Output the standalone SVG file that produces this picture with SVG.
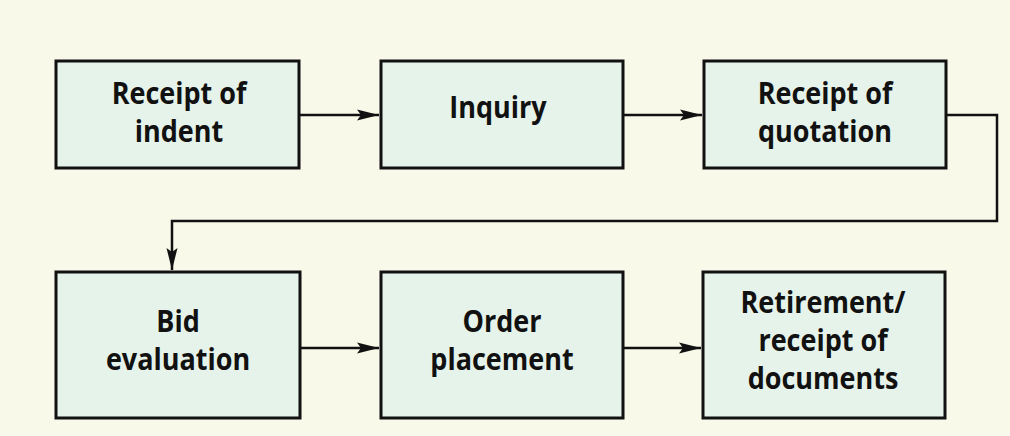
<svg xmlns="http://www.w3.org/2000/svg" width="1010" height="436" viewBox="0 0 1010 436">
  <style>
    .bg { fill: #f8f9e8; }
    .box { fill: #e6f3ea; stroke: #111; stroke-width: 3; }
    .lbl { font-family: "Open Sans", "Liberation Sans", sans-serif; font-weight: bold; font-size: 30px; fill: #111; text-anchor: middle; }
    .link { fill: none; stroke: #111; stroke-width: 2.5; }
  </style>
  <defs>
    <marker id="arrow" viewBox="0 0 22 12" refX="22" refY="6" markerWidth="22" markerHeight="12" markerUnits="userSpaceOnUse" orient="auto">
      <path d="M0,0.5 L22,6 L0,11.5 L4,6 Z" fill="#111"/>
    </marker>
  </defs>
  <rect class="bg" x="0" y="0" width="1010" height="436"/>

  <g id="receipt-of-indent">
    <rect class="box" x="56" y="61" width="243" height="107"/>
    <text class="lbl" transform="translate(179,104) scale(0.9,1)">Receipt of</text>
    <text class="lbl" transform="translate(179,142) scale(0.9,1)">indent</text>
  </g>

  <g id="inquiry">
    <rect class="box" x="381" y="61" width="242" height="107"/>
    <text class="lbl" transform="translate(498,118) scale(0.9,1)">Inquiry</text>
  </g>

  <g id="receipt-of-quotation">
    <rect class="box" x="704" y="61" width="242" height="107"/>
    <text class="lbl" transform="translate(825,104) scale(0.9,1)">Receipt of</text>
    <text class="lbl" transform="translate(825,142) scale(0.9,1)">quotation</text>
  </g>

  <g id="bid-evaluation">
    <rect class="box" x="56" y="272" width="244" height="146"/>
    <text class="lbl" transform="translate(178,332) scale(0.9,1)">Bid</text>
    <text class="lbl" transform="translate(178,370) scale(0.9,1)">evaluation</text>
  </g>

  <g id="order-placement">
    <rect class="box" x="381" y="272" width="242" height="146"/>
    <text class="lbl" transform="translate(502,332) scale(0.9,1)">Order</text>
    <text class="lbl" transform="translate(502,370) scale(0.9,1)">placement</text>
  </g>

  <g id="retirement">
    <rect class="box" x="703" y="272" width="242" height="146"/>
    <text class="lbl" transform="translate(823,313) scale(0.9,1)">Retirement/</text>
    <text class="lbl" transform="translate(823,351) scale(0.9,1)">receipt of</text>
    <text class="lbl" transform="translate(823,389) scale(0.9,1)">documents</text>
  </g>

  <g id="connectors">
    <path class="link" d="M299,115 H379" marker-end="url(#arrow)"/>
    <path class="link" d="M623,115 H702" marker-end="url(#arrow)"/>
    <path class="link" d="M946,115 H997 V221 H172 V270" marker-end="url(#arrow)"/>
    <path class="link" d="M300,348 H379" marker-end="url(#arrow)"/>
    <path class="link" d="M623,348 H701" marker-end="url(#arrow)"/>
  </g>
</svg>
